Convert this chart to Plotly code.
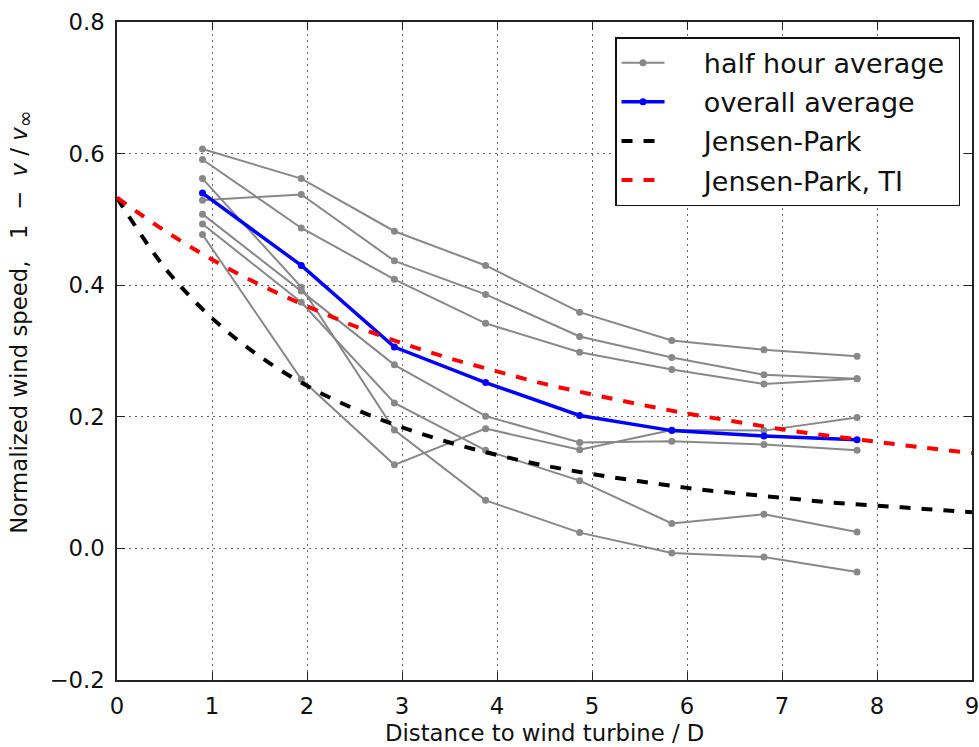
import plotly.graph_objects as go

# ---- data ----
dist = [0.9, 1.94, 2.92, 3.88, 4.87, 5.84, 6.81, 7.79]

half_hour = [
    [0.607, 0.562, 0.482, 0.430, 0.359, 0.316, 0.302, 0.292],
    [0.529, 0.538, 0.437, 0.386, 0.322, 0.290, 0.264, 0.258],
    [0.591, 0.487, 0.409, 0.342, 0.298, 0.272, 0.250, 0.258],
    [0.562, 0.397, 0.180, 0.073, 0.024, -0.007, -0.013, -0.036],
    [0.508, 0.391, 0.279, 0.201, 0.161, 0.163, 0.158, 0.149],
    [0.493, 0.374, 0.221, 0.149, 0.103, 0.038, 0.052, 0.025],
    [0.477, 0.257, 0.127, 0.182, 0.150, 0.180, 0.179, 0.199],
]

overall = [0.540, 0.430, 0.306, 0.252, 0.202, 0.179, 0.171, 0.165]

model_x = [0, 0.5, 1, 1.5, 2, 2.5, 3, 3.5, 4, 4.5, 5, 5.5, 6, 6.5, 7, 7.5, 8, 8.5, 9]
jensen = [0.533, 0.427, 0.350, 0.292, 0.247, 0.212, 0.184, 0.161, 0.142, 0.126,
          0.113, 0.102, 0.092, 0.084, 0.077, 0.070, 0.065, 0.060, 0.055]
jensen_ti = [0.533, 0.483, 0.439, 0.401, 0.368, 0.338, 0.312, 0.289, 0.269, 0.250,
             0.234, 0.219, 0.205, 0.193, 0.181, 0.171, 0.162, 0.153, 0.145]

x_ticks = [0, 1, 2, 3, 4, 5, 6, 7, 8, 9]
y_ticks = [-0.2, 0.0, 0.2, 0.4, 0.6, 0.8]

FONT = "DejaVu Sans"
GRAY = "#888888"
NB = "\u00a0"
PAD = NB * 4
TAIL = NB

fig = go.Figure()

for i, series in enumerate(half_hour):
    fig.add_trace(go.Scatter(
        x=dist, y=series, mode="lines+markers",
        line=dict(color=GRAY, width=2),
        marker=dict(color=GRAY, size=7),
        name=PAD + "half hour average" + TAIL, showlegend=(i == 0),
        legendgroup="g1",
    ))

fig.add_trace(go.Scatter(
    x=dist, y=overall, mode="lines+markers",
    line=dict(color="#0000ff", width=3.5),
    marker=dict(color="#0000ff", size=7),
    name=PAD + "overall average", legendgroup="g2",
))

fig.add_trace(go.Scatter(
    x=model_x, y=jensen, mode="lines", line_shape="spline",
    line=dict(color="#000000", width=4, dash="11px,11px"),
    name=PAD + "Jensen-Park", legendgroup="g3",
))

fig.add_trace(go.Scatter(
    x=model_x, y=jensen_ti, mode="lines", line_shape="spline",
    line=dict(color="#ff0000", width=4, dash="11px,11px"),
    name=PAD + "Jensen-Park, TI", legendgroup="g4",
))

axis_common = dict(
    showline=True, linecolor="#222", linewidth=1.5, mirror="allticks",
    ticks="inside", ticklen=8, tickwidth=1.2, tickcolor="#222",
    showgrid=True, gridcolor="#666", gridwidth=1, griddash="2px,4px",
    zeroline=False, automargin=False, ticklabeloverflow="allow",
    tickfont=dict(family=FONT, size=22.75, color="#111"),
)

fig.update_xaxes(range=[0, 9], tickvals=x_ticks, ticklabelstandoff=5, **axis_common)
fig.update_yaxes(range=[-0.2, 0.8], tickvals=y_ticks, tickformat=".1f",
                 ticklabelstandoff=6, **axis_common)

fig.add_annotation(
    text="Distance to wind turbine / D",
    xref="paper", yref="paper", x=0.5, y=-0.0805,
    xanchor="center", yanchor="middle", showarrow=False,
    font=dict(family=FONT, size=22.75, color="#111"),
)

ylabel = ("Normalized wind speed," + NB * 3 + "1" + NB * 2 + "−" + NB * 2
          + "<i>v</i>" + NB + "/" + NB + "<i>v</i>"
          + "<sub><span style='font-size:20px'>∞</span></sub>")
fig.add_annotation(
    text=ylabel,
    xref="paper", yref="paper", x=-0.111, y=0.543,
    xanchor="center", yanchor="middle", textangle=-90, showarrow=False,
    font=dict(family=FONT, size=22.75, color="#111"),
)

fig.update_layout(
    width=979, height=747,
    margin=dict(l=117, r=7, t=22, b=67),
    paper_bgcolor="white", plot_bgcolor="white",
    font=dict(family=FONT, color="#111"),
    showlegend=True,
    legend=dict(
        x=0.986, y=0.977, xanchor="right", yanchor="top",
        bgcolor="white", bordercolor="#111", borderwidth=1.5,
        font=dict(family=FONT, size=27, color="#111"),
        traceorder="grouped", tracegroupgap=1, itemwidth=43,
    ),
)

fig.write_html(
    "out.html",
    config={"displayModeBar": False},
    post_script="document.body.style.margin='0';document.body.style.overflow='hidden';",
)
